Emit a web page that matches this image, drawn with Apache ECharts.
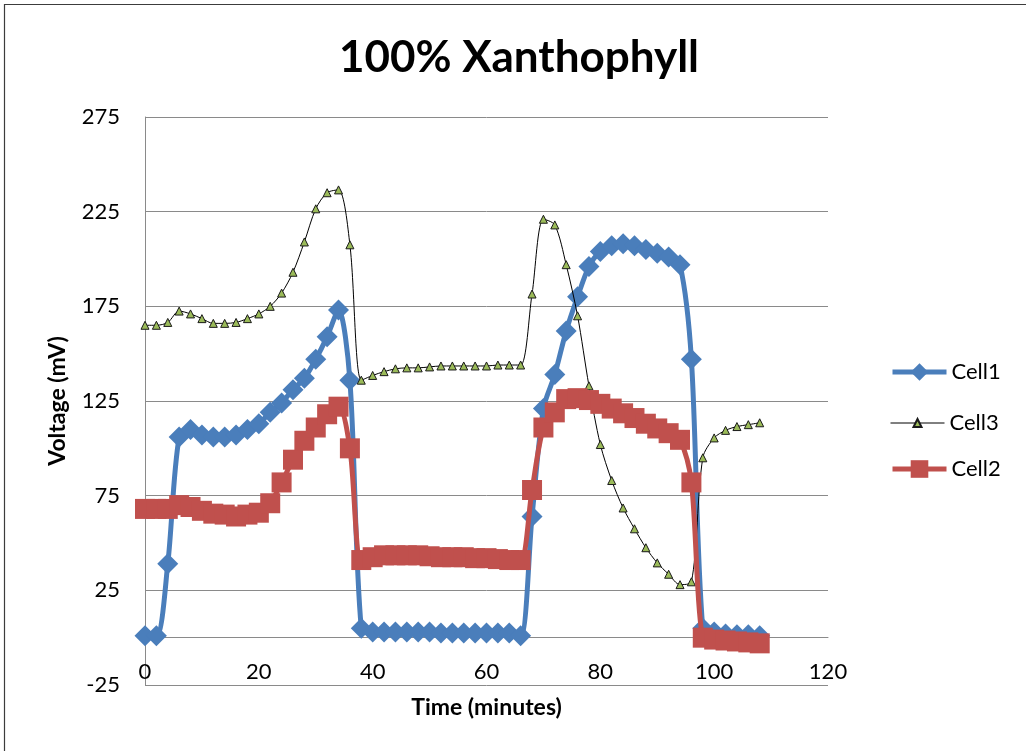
<!DOCTYPE html>
<html>
<head>
<meta charset="utf-8">
<title>100% Xanthophyll</title>
<script src="https://cdn.jsdelivr.net/npm/echarts@6/dist/echarts.min.js"></script>
<style>
  html, body { margin: 0; padding: 0; background: #ffffff; }
  #chart { width: 1026px; height: 751px; }
</style>
</head>
<body>
<div id="chart"></div>
<script>
// Sampling times (minutes)
const minutes = [0, 2, 4, 6, 8, 10, 12, 14, 16, 18, 20, 22, 24, 26, 28, 30, 32, 34, 36, 38,
                 40, 42, 44, 46, 48, 50, 52, 54, 56, 58, 60, 62, 64, 66, 68, 70, 72, 74, 76, 78,
                 80, 82, 84, 86, 88, 90, 92, 94, 96, 98, 100, 102, 104, 106, 108];

// Cell voltages (mV)
const cell1 = [1, 1, 39, 106, 110, 107, 106, 106, 107, 110, 113, 119, 124, 131, 137, 147, 159, 173, 136, 5,
               3, 3, 3, 3, 3, 3, 2.5, 2.5, 2.5, 2.5, 2.5, 2.5, 2.5, 1, 64, 121, 139, 162, 180, 196,
               204, 207, 208, 207, 205, 203, 201, 197, 147, 5, 3, 2, 1.5, 1.5, 1];

const cell3 = [165, 165, 166.5, 172.5, 171, 168.5, 166, 166, 166.5, 168.5, 171, 175, 182, 193, 209, 226.5, 235, 236.5, 207.5, 136,
               138.5, 140.5, 142, 142.5, 142.5, 143, 143.5, 143.5, 143.5, 143.5, 143.5, 144, 144, 144, 181.5, 221, 218, 197, 170, 133,
               102, 83, 68.5, 57.5, 47.5, 39.5, 33.5, 28, 29.5, 95, 105.5, 109.5, 111.5, 112.5, 113.5];

const cell2 = [68, 68, 68, 70, 69, 67, 65.5, 65, 64, 65, 66, 71, 82, 94, 104, 111, 118, 122, 100, 41,
               42.5, 43.5, 43.5, 43.5, 43.5, 43, 42.5, 42.5, 42.5, 42, 42, 41.5, 41, 41, 78, 111, 119, 126, 126.5, 125.5,
               123.5, 121, 118.5, 116, 113, 110.5, 108, 104.5, 82, 0, -1, -1.5, -2, -2.5, -3];

// Axis ticks
const yTicks = [-25, 25, 75, 125, 175, 225, 275];
const xTicks = [0, 20, 40, 60, 80, 100, 120];

const FONT = 'Lato, "Open Sans", sans-serif';
const GRID_GRAY = '#8a8a8a';

const pairs = vals => minutes.map((t, i) => [t, vals[i]]);

// One legend block per series so each key keeps its own marker size and line weight
function legendBlock(name, top, itemHeight, lineWidth) {
  return {
    orient: 'vertical',
    left: 885,
    top: top,
    itemWidth: 54,
    itemHeight: itemHeight,
    lineStyle: { width: lineWidth },
    data: [name],
    textStyle: { fontFamily: FONT, fontSize: 22, color: '#000000' }
  };
}

const chart = echarts.init(document.getElementById('chart'), null, { renderer: 'canvas' });

chart.setOption({
  backgroundColor: '#ffffff',
  animation: false,
  textStyle: { fontFamily: FONT, color: '#000000' },
  title: {
    text: '100% Xanthophyll',
    left: 334,
    top: 31,
    textStyle: { fontFamily: FONT, fontSize: 44, fontWeight: 'bold', color: '#000000' }
  },
  graphic: [{
    type: 'rect',
    silent: true,
    shape: { x: 4.5, y: 4.5, width: 1100, height: 1000 },
    style: { fill: null, stroke: '#3c3c3c', lineWidth: 1.2 }
  }],
  legend: [
    legendBlock('Cell1', 356, 22, 5),
    legendBlock('Cell3', 407, 10, 1),
    legendBlock('Cell2', 453, 22, 5)
  ],
  grid: { left: 145, right: 198, top: 117, bottom: 66, containLabel: false, outerBoundsMode: 'none' },
  xAxis: {
    type: 'value',
    min: xTicks[0],
    max: xTicks[xTicks.length - 1],
    interval: 20,
    name: 'Time (minutes)',
    nameLocation: 'middle',
    nameGap: 11,
    nameTextStyle: { fontFamily: FONT, fontSize: 23, fontWeight: 'bold', color: '#000000' },
    axisLine: { show: true, onZero: true, lineStyle: { color: GRID_GRAY, width: 1 } },
    axisTick: { show: false },
    splitLine: { show: false },
    axisLabel: {
      customValues: xTicks,
      margin: -24,
      fontFamily: FONT, fontSize: 22, color: '#000000'
    }
  },
  yAxis: {
    type: 'value',
    min: yTicks[0],
    max: yTicks[yTicks.length - 1],
    interval: 50,
    name: 'Voltage (mV)',
    nameLocation: 'middle',
    nameGap: 76,
    nameRotate: 90,
    nameTextStyle: { fontFamily: FONT, fontSize: 23, fontWeight: 'bold', color: '#000000' },
    axisLine: { show: true, lineStyle: { color: GRID_GRAY, width: 1 } },
    axisTick: { show: false, customValues: yTicks },
    splitLine: { show: true, lineStyle: { color: GRID_GRAY, width: 1 } },
    axisLabel: {
      customValues: yTicks,
      margin: 25,
      fontFamily: FONT, fontSize: 22, color: '#000000'
    }
  },
  series: [
    {
      name: 'Cell1',
      type: 'line',
      data: pairs(cell1),
      smooth: 0.3,
      symbol: 'diamond',
      symbolSize: 21,
      lineStyle: { color: '#4a7ebb', width: 5 },
      itemStyle: { color: '#4a7ebb', borderColor: '#4a7ebb', borderWidth: 0 },
      z: 2
    },
    {
      name: 'Cell3',
      type: 'line',
      data: pairs(cell3),
      smooth: 0.3,
      symbol: 'triangle',
      symbolSize: 8,
      lineStyle: { color: '#000000', width: 1 },
      itemStyle: { color: '#9bbb59', borderColor: '#1a1a1a', borderWidth: 1 },
      z: 3
    },
    {
      name: 'Cell2',
      type: 'line',
      data: pairs(cell2),
      smooth: 0.3,
      symbol: 'rect',
      symbolSize: 20,
      lineStyle: { color: '#c0504d', width: 5 },
      itemStyle: { color: '#c0504d', borderColor: '#c0504d', borderWidth: 0 },
      z: 4
    }
  ]
});
</script>
</body>
</html>
